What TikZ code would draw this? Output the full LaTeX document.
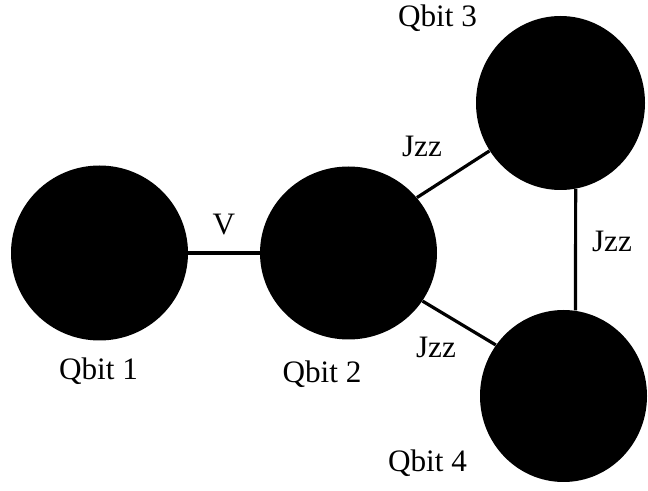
\documentclass[tikz,border=0pt]{standalone}
\usepackage{fontspec}
\setmainfont{Liberation Serif}
\usetikzlibrary{shapes.geometric}
\begin{document}
\begin{tikzpicture}[x=0.5pt,y=-0.5pt,
  qbit/.style={ellipse,fill=black,draw=none,inner sep=0pt},
  lbl/.style={anchor=base,inner sep=0pt,font=\fontsize{15.6}{18}\selectfont},
  link/.style={line width=1.6pt}]
\useasboundingbox[fill=white] (0,0) rectangle (648,491);
\node[qbit,minimum width=88.5pt,minimum height=87.5pt] (q1) at (99.5,253) {};
\node[qbit,minimum width=88.5pt,minimum height=86.5pt] (q2) at (348.5,253) {};
\node[qbit,minimum width=84.5pt,minimum height=87pt] (q3) at (560.5,103) {};
\node[qbit,minimum width=83.5pt,minimum height=86pt] (q4) at (563.5,396) {};
\draw[link] (q1.east) -- (q2.west);
\draw[link] (q2.39) -- (q3.-146);
\draw[link] (q2.-33) -- (q4.143.6);
\draw[link] (q3.-80) -- (q4.82);
\node[lbl] (lv) at (224,235) {V};
\node[lbl] (l23) at (422,157) {Jzz};
\node[lbl] (l34) at (612,252) {Jzz};
\node[lbl] (l24) at (436,358) {Jzz};
\node[lbl] (t1) at (98.5,380) {Qbit 1};
\node[lbl] (t2) at (322,383) {Qbit 2};
\node[lbl] (t3) at (437.5,27) {Qbit 3};
\node[lbl] (t4) at (427.5,472) {Qbit 4};
\end{tikzpicture}
\end{document}
